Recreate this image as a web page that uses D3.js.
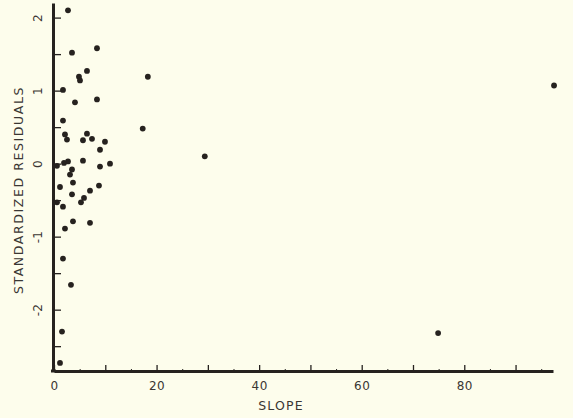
<!DOCTYPE html>
<html>
<head>
<meta charset="utf-8">
<script src="https://cdn.jsdelivr.net/npm/d3@7"></script>
<style>
  html, body { margin: 0; padding: 0; background: #fdfdec; }
  svg { display: block; }
  text { font-family: "DejaVu Sans", sans-serif; fill: #3a3633; }
</style>
</head>
<body>
<svg id="chart" width="573" height="418"></svg>
<script>
// Residuals against slope
const slope = [
  2.73, 3.51, 8.38, 4.87, 5.07, 6.43, 1.75, 4.09, 8.38, 1.75,
  2.14, 2.53, 5.65, 6.43, 7.41, 9.94, 8.97, 2.73, 5.65, 10.92,
  0.58, 1.95, 3.51, 8.97, 3.12, 1.17, 3.70, 3.51, 8.77, 7.02,
  5.85, 5.26, 0.58, 1.75, 3.70, 7.02, 2.14, 1.75, 3.31, 1.56,
  1.17, 18.3, 17.3, 29.4, 74.9, 97.5
];
const residual = [
  2.10, 1.52, 1.58, 1.19, 1.14, 1.27, 1.01, 0.84, 0.88, 0.59,
  0.40, 0.33, 0.32, 0.41, 0.34, 0.30, 0.19, 0.03, 0.04, 0.00,
  -0.03, 0.01, -0.08, -0.04, -0.15, -0.32, -0.26, -0.42, -0.30, -0.37,
  -0.47, -0.53, -0.53, -0.59, -0.79, -0.81, -0.89, -1.30, -1.66, -2.30,
  -2.73, 1.19, 0.48, 0.10, -2.32, 1.07
];
const xTicks = [0, 10, 20, 30, 40, 50, 60, 70, 80, 90];
const xLabels = [0, 20, 40, 60, 80];
const yTicks = [-2.5, -2, -1.5, -1, -0.5, 0, 0.5, 1, 1.5, 2];
const yLabels = [-2, -1, 0, 1, 2];

const svg = d3.select("#chart");
const ink = "#26221f";

const x = d3.scaleLinear().domain([0, 97.3]).range([54, 553]);
const y = d3.scaleLinear().domain([-2.84, 2.2]).range([371, 3]);

// minor x ticks between the labelled ones
const xMinor = d3.axisBottom(x)
  .tickValues(d3.range(5, 96, 5).filter(v => v % 10 !== 0))
  .tickSize(-2).tickSizeOuter(0).tickFormat("");
svg.append("g").attr("transform", `translate(0,${y(-2.84)})`).call(xMinor)
  .call(g => g.select(".domain").remove())
  .call(g => g.selectAll("line").attr("stroke", ink).attr("stroke-width", 1));

// x axis
const xAxis = d3.axisBottom(x)
  .tickValues(xTicks)
  .tickSize(-6).tickSizeOuter(0).tickPadding(10)
  .tickFormat(d => xLabels.includes(d) ? d : "");
svg.append("g").attr("transform", `translate(0,${y(-2.84)})`).call(xAxis)
  .call(g => g.select(".domain").attr("stroke", ink).attr("stroke-width", 3))
  .call(g => g.selectAll(".tick line").attr("stroke", ink).attr("stroke-width", 1.3))
  .call(g => g.selectAll(".tick text").attr("font-size", 12).attr("fill", "#3a3633")
    .attr("letter-spacing", 0.5));

// y axis
const yAxis = d3.axisLeft(y)
  .tickValues(yTicks)
  .tickSize(-8).tickSizeOuter(0)
  .tickFormat(d => yLabels.includes(d) ? d : "");
svg.append("g").attr("transform", `translate(${x(0) - 1},0)`).call(yAxis)
  .call(g => g.select(".domain").attr("stroke", ink).attr("stroke-width", 3))
  .call(g => g.selectAll(".tick line").attr("stroke", ink).attr("stroke-width", 1.3))
  .call(g => g.selectAll(".tick text")
    .attr("font-size", 12).attr("fill", "#3a3633")
    .attr("x", null).attr("dy", "0.35em")
    .attr("text-anchor", "middle")
    .attr("transform", "translate(-15,0) rotate(-90)"));

// extend x axis line slightly left of the y axis
svg.append("line")
  .attr("x1", x(0) - 3).attr("x2", x(0) + 2)
  .attr("y1", y(-2.84)).attr("y2", y(-2.84))
  .attr("stroke", ink).attr("stroke-width", 3);

// points
const pts = slope.map((s, i) => ({ s, r: residual[i] }));
svg.append("g").selectAll("circle").data(pts).join("circle")
  .attr("cx", d => x(d.s))
  .attr("cy", d => y(d.r))
  .attr("r", 2.9)
  .attr("fill", ink);

// axis titles
svg.append("text")
  .attr("x", 281).attr("y", 410)
  .attr("text-anchor", "middle").attr("font-size", 12.5)
  .attr("letter-spacing", 1.2)
  .text("SLOPE");

svg.append("text")
  .attr("transform", `translate(23,${190}) rotate(-90)`)
  .attr("text-anchor", "middle").attr("font-size", 12.5)
  .attr("letter-spacing", 1.6)
  .text("STANDARDIZED RESIDUALS");
</script>
</body>
</html>
